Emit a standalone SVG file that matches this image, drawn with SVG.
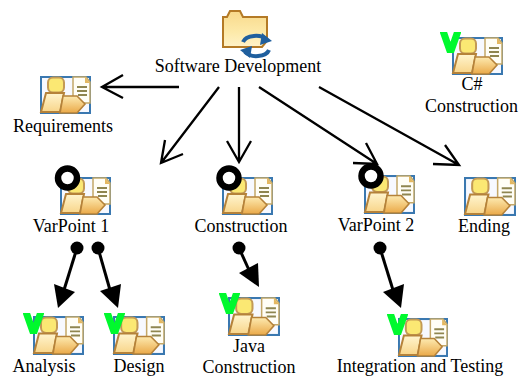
<svg xmlns="http://www.w3.org/2000/svg" width="521" height="378" viewBox="0 0 521 378">
<style>
text{font-family:"Liberation Serif","Times New Roman",serif;font-size:18px;fill:#000;text-anchor:middle}
.thin{fill:none;stroke:#000;stroke-width:2.3}
.thick{fill:none;stroke:#000;stroke-width:3}
.dot{fill:#000}
.head{fill:#000;stroke:none}
.v{fill:none;stroke:#00f92e;stroke-width:7;stroke-linejoin:miter;stroke-miterlimit:6}
.c{fill:#fff;stroke:#000;stroke-width:6.500}
</style>
<defs>
<clipPath id="vc"><rect x="0" y="0" width="21" height="21"/></clipPath>
<linearGradient id="gb" x1="0" y1="0" x2="0" y2="1"><stop offset="0" stop-color="#fff5cf"/><stop offset="1" stop-color="#f8d58a"/></linearGradient>
<linearGradient id="gf" x1="0" y1="0" x2="0" y2="1"><stop offset="0" stop-color="#f8d98a"/><stop offset=".6" stop-color="#fdeaaa"/><stop offset="1" stop-color="#fff2c8"/></linearGradient>
<linearGradient id="gt" x1="0" y1="0" x2="0" y2="1"><stop offset="0" stop-color="#fdeab0"/><stop offset="1" stop-color="#eaa948"/></linearGradient>
<symbol id="icon" viewBox="0 0 51 38" preserveAspectRatio="none" overflow="visible">
<rect x="1" y="1" width="49" height="36" fill="#f7f9ff" stroke="#3a78b0" stroke-width="2"/>
<path d="M33 1H46L50 6V27H33Z" fill="#fffef6" stroke="#c4a868" stroke-width="1.5"/>
<path d="M45 1V7H50Z" fill="#e4b860"/>
<path d="M37 11H47M37 15H47M38 19H47" stroke="#8f8650" stroke-width="1.8" fill="none"/>
<rect x="8" y="1.500" width="16" height="15" rx="5" fill="#fbe873" stroke="#c39a55" stroke-width="2"/>
<path d="M6 17H24L20 36H1Z" fill="url(#gb)" stroke="#b5823a" stroke-width="2"/>
<path d="M23 20H37L45 28L37 37H20Z" fill="url(#gt)" stroke="#b5823a" stroke-width="1.6"/>
</symbol>
<g id="vm" clip-path="url(#vc)"><path class="v" d="M2 -4L10.500 20.300L19 -4"/></g>
</defs>
<g id="connectors">
<g class="thin">
<path d="M179 87H102M123 75L102 87L123 98"/>
<path d="M219 87L161 163M165 140L161 163L183 154"/>
<path d="M239 87V162M227 141L239 162L251 141"/>
<path d="M259 87L377 164M366 143L377 164L353 163"/>
<path d="M319 87L459 165M445 145L459 165L433 164"/>
</g>
<g class="thick">
<path d="M77 248L64 290"/><path d="M98 248L110 290"/><path d="M239 248L249 270"/><path d="M380 248L393 290"/>
</g>
<g>
<circle class="dot" cx="77" cy="248" r="6.500"/><circle class="dot" cx="98" cy="248" r="6.500"/><circle class="dot" cx="239" cy="248" r="6.500"/><circle class="dot" cx="380" cy="248" r="6.500"/>
<path class="head" d="M58 308L54 284L75 292Z"/>
<path class="head" d="M118 308L100 291L121 284Z"/>
<path class="head" d="M259 287L239 273L258 263Z"/>
<path class="head" d="M401 308L383 292L404 284Z"/>
</g>
</g>
<g id="software-development">
<path d="M223 47V17H227L230 11H240L243 17H267V41L262 47Z" fill="url(#gf)" stroke="#b47a26" stroke-width="2"/>
<g fill="none" stroke="#1f5f9e" stroke-width="4"><path d="M243 42A13 8 0 0 1 267 40"/><path d="M269 50A13 8 0 0 1 245 52"/></g>
<path d="M262 33L272 41L260 45Z" fill="#1f5f9e"/><path d="M250 58L240 50L252 46Z" fill="#1f5f9e"/>
<text x="238" y="72">Software Development</text>
</g>
<g id="requirements"><use href="#icon" x="40" y="76" width="51" height="38"/><text x="63" y="132">Requirements</text></g>
<g id="csharp-construction"><use href="#icon" x="452" y="37" width="51" height="38"/><use href="#vm" x="440" y="32"/><text x="472" y="90">C#</text><text x="471.500" y="112">Construction</text></g>
<g id="varpoint-1"><use href="#icon" x="60" y="177" width="51" height="38"/><circle class="c" cx="67.500" cy="178" r="9.500"/><text x="71" y="232">VarPoint 1</text></g>
<g id="construction"><use href="#icon" x="222" y="177" width="51" height="38"/><circle class="c" cx="229" cy="178" r="9.500"/><text x="241" y="232">Construction</text></g>
<g id="varpoint-2"><use href="#icon" x="364" y="175" width="51" height="39"/><circle class="c" cx="371" cy="176" r="9.500"/><text x="376" y="231">VarPoint 2</text></g>
<g id="ending"><use href="#icon" x="464" y="177" width="52" height="39"/><text x="484" y="232">Ending</text></g>
<g id="analysis"><use href="#icon" x="33" y="316" width="51" height="39"/><use href="#vm" x="23" y="313"/><text x="44" y="372">Analysis</text></g>
<g id="design"><use href="#icon" x="113" y="316" width="52" height="39"/><use href="#vm" x="104" y="313"/><text x="139" y="372">Design</text></g>
<g id="java-construction"><use href="#icon" x="228" y="297" width="52" height="39"/><use href="#vm" x="219" y="293"/><text x="249" y="352">Java</text><text x="249" y="373">Construction</text></g>
<g id="integration-and-testing"><use href="#icon" x="398" y="318" width="50" height="39"/><use href="#vm" x="387" y="314"/><text x="420" y="372">Integration and Testing</text></g>
</svg>
